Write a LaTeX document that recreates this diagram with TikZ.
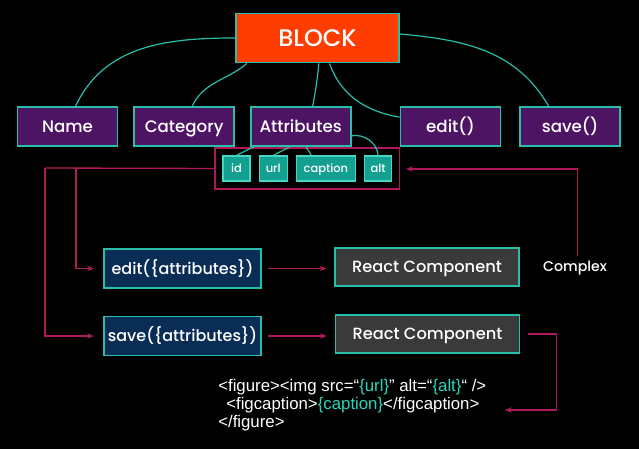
\documentclass[tikz,border=0pt]{standalone}
\usepackage{fontspec}
\setmainfont{Poppins}[UprightFont={* Medium}]
\newfontfamily\codefont{Liberation Sans}
\usetikzlibrary{arrows.meta,positioning,fit}
\definecolor{tealc}{RGB}{40,190,170}
\definecolor{blockred}{RGB}{255,61,0}
\definecolor{purp}{RGB}{78,20,100}
\definecolor{attrfill}{RGB}{20,160,145}
\definecolor{attrline}{RGB}{70,215,195}
\definecolor{navy}{RGB}{10,45,85}
\definecolor{rcgray}{RGB}{58,58,58}
\definecolor{crim}{RGB}{175,25,90}
\definecolor{codeteal}{RGB}{40,215,190}
\tikzset{
  blk/.style={draw=tealc,rectangle,line width=1.2pt,inner sep=0pt,text=white,align=center,text depth=0pt},
  topblk/.style={blk,fill=blockred,minimum width=122pt,minimum height=37pt,text height=12.6pt,font=\fontsize{18}{21}\selectfont},
  propblk/.style={blk,fill=purp,minimum width=75pt,minimum height=29pt,text height=8.7pt,font=\fontsize{12.5}{15}\selectfont},
  attrblk/.style={blk,fill=attrfill,draw=attrline,line width=0.9pt,minimum height=18.75pt,text height=6pt,font=\fontsize{8.6}{10}\selectfont},
  fnblk/.style={blk,fill=navy,minimum width=117.75pt,minimum height=29pt,text height=8.4pt,font=\fontsize{12}{14}\selectfont},
  rcblk/.style={blk,fill=rcgray,minimum width=138pt,minimum height=28.5pt,text height=8.4pt,font=\fontsize{12.2}{14}\selectfont},
  grpbox/.style={draw=crim,line width=1pt,inner sep=5.5pt},
  link/.style={tealc,line width=0.9pt},
  flow/.style={-{Stealth[length=5pt,width=4pt]},crim,line width=1pt},
  lbl/.style={text=white,font=\fontsize{10.6}{13}\selectfont}
}
\newcommand{\hl}[1]{\textcolor{codeteal}{#1}}

\begin{document}
\begin{tikzpicture}[x=0.75pt,y=-0.75pt]
  \fill[black] (0,0) rectangle (639,449);
  \useasboundingbox (0,0) rectangle (639,449);

  \node[topblk] (block) at (317.5,38) {BLOCK};
  \node[propblk] (name) at (67.5,126.5) {Name};
  \node[propblk,right=11.25pt of name] (cat) {Category};
  \node[propblk,right=11.25pt of cat] (attrs) {Attributes};
  \node[propblk] (edit) at (450.5,126.5) {edit()};
  \node[propblk,right=13.5pt of edit] (save) {save()};

  \node[attrblk,minimum width=20.25pt] (id) at (236.5,168.5) {id};
  \node[attrblk,minimum width=21pt,right=6pt of id] (url) {url};
  \node[attrblk,minimum width=44.25pt,right=6pt of url] (cap) {caption};
  \node[attrblk,minimum width=20.25pt,right=6pt of cap] (alt) {alt};
  \node[grpbox,fit=(id)(url)(cap)(alt)] (grp) {};

  \node[fnblk] (editfn) at (182.5,268.5) {edit(\{attributes\})};
  \node[fnblk] (savefn) at (182.5,336) {save(\{attributes\})};
  \node[rcblk] (rc1) at (427,267) {React Component};
  \node[rcblk] (rc2) at (427.5,334) {React Component};
  \node[lbl] (complex) at (575,268) {Complex};

  \node[text=white,align=left,anchor=north west,inner sep=0pt,
        font=\codefont\fontsize{12.6}{13.5}\selectfont] (code) at (218,379)
    {<figure><img src=“\hl{\{url\}}” alt=“\hl{\{alt\}}“ />\\
     \hspace*{6pt}<figcaption>\hl{\{caption\}}</figcaption>\\
     </figure>};

  \draw[link] (block.west) to[out=180,in=65] ([xshift=6pt]name.north);
  \draw[link] ([xshift=-53pt]block.south) to[out=220,in=65] ([xshift=6pt]cat.north);
  \draw[link] ([xshift=1pt]block.south) to[out=-95,in=80] ([xshift=9pt]attrs.north);
  \draw[link] ([xshift=9pt]block.south) to[out=-70,in=170] ([yshift=7pt]edit.west);
  \draw[link] ([yshift=3pt]block.east) to[out=-5,in=120] ([xshift=-16pt]save.north);

  \draw[link] ([xshift=-35pt]attrs.south) -- (id.north);
  \draw[link] ([xshift=-8pt]attrs.south) -- (url.north);
  \draw[link] ([xshift=4pt]attrs.south) -- ([xshift=-11pt]cap.north);
  \draw[link] ([yshift=-7pt]attrs.east) to[out=10,in=95] (alt.north);

  \coordinate (lx) at (45,168);
  \coordinate (lx2) at (76,168);
  \draw[crim,line width=1pt] (grp.west) -- (lx);
  \draw[flow,shorten >=7pt] (lx) |- (savefn.west);
  \draw[flow,shorten >=7pt] (lx2) |- (editfn.west);
  \draw[flow,shorten <=5pt,shorten >=6pt] (editfn.east) -- (editfn.east -| rc1.west);
  \draw[flow,shorten <=5pt,shorten >=6pt] (savefn.east) -- (savefn.east -| rc2.west);

  \coordinate (codein) at (505,410);
  \draw[flow] ([xshift=6pt]rc2.east) -- ++(28,0) |- (codein);
  \coordinate (grpin) at (406,169);
  \draw[flow] ([xshift=2pt]complex.north) |- (grpin);
\end{tikzpicture}
\end{document}
